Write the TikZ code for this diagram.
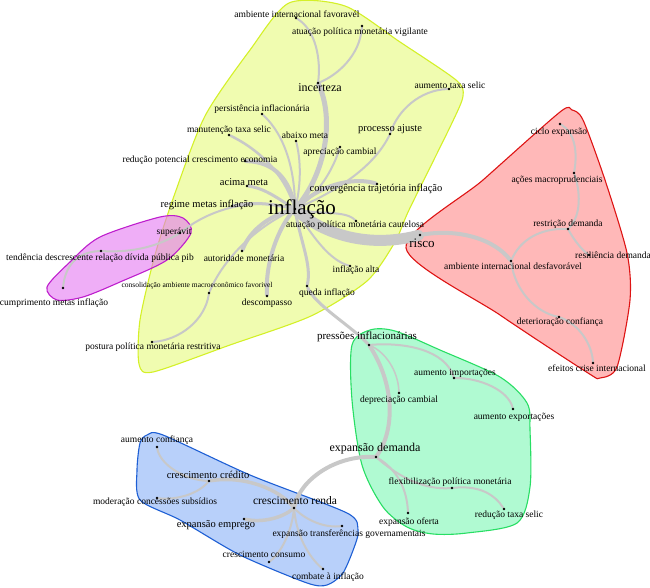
\documentclass[tikz,border=0pt]{standalone}
\usepackage{fontspec}
\setmainfont{Liberation Serif}
\usepackage{tikz}
\usetikzlibrary{backgrounds}

\definecolor{edgegrey}{RGB}{200,200,200}
\definecolor{yfill}{RGB}{240,252,176}
\definecolor{yline}{RGB}{212,240,40}
\definecolor{mfill}{RGB}{228,120,242}
\definecolor{mline}{RGB}{190,30,205}
\definecolor{rfill}{RGB}{255,184,184}
\definecolor{rline}{RGB}{222,20,20}
\definecolor{gfill}{RGB}{176,250,210}
\definecolor{gline}{RGB}{40,222,100}
\definecolor{bfill}{RGB}{184,208,250}
\definecolor{bline}{RGB}{30,95,212}

\begin{document}
\begin{tikzpicture}[
    x=1pt, y=-1pt,
    dot/.style={circle, fill=black, inner sep=0pt, minimum size=2.6pt},
    lbl/.style={inner sep=0pt, font=\fontsize{9.5}{11}\selectfont},
    lblmid/.style={inner sep=0pt, font=\fontsize{10.5}{12}\selectfont},
    lblsmall/.style={inner sep=0pt, font=\fontsize{7.5}{9}\selectfont},
    edge/.style={draw=edgegrey, line width=2pt, line cap=round},
    hull/.style={line width=1.1pt, line join=round}
  ]
  \useasboundingbox (0,0) rectangle (650,588);

  % inflacao cluster
  \node[dot] (infl)    at (295,209) {};
  \node[dot] (incert)  at (318,83)  {};
  \node[dot] (ambfav)  at (296,18)  {};
  \node[dot] (vigil)   at (362,26)  {};
  \node[dot] (aumsel)  at (449,89)  {};
  \node[dot] (persist) at (262,114) {};
  \node[dot] (manut)   at (229,135) {};
  \node[dot] (abaixo)  at (296,141) {};
  \node[dot] (proc)    at (390,134) {};
  \node[dot] (aprec)   at (340,147) {};
  \node[dot] (reduc)   at (245,161) {};
  \node[dot] (acima)   at (247,186) {};
  \node[dot] (conv)    at (377,184) {};
  \node[dot] (regime)  at (232,206) {};
  \node[dot] (autor)   at (242,251) {};
  \node[dot] (consol)  at (209,293) {};
  \node[dot] (descomp) at (267,296) {};
  \node[dot] (queda)   at (307,286) {};
  \node[dot] (postura) at (152,342) {};
  \node[dot] (caut)    at (356,221) {};
  \node[dot] (inflalta) at (350,266) {};
  % superavit cluster
  \node[dot] (superav) at (180,233) {};
  \node[dot] (tendenc) at (101,251) {};
  \node[dot] (cumpr)   at (63,288)  {};
  % risco cluster
  \node[dot] (risco)   at (420,235) {};
  \node[dot] (ciclo)   at (560,124) {};
  \node[dot] (acoes)   at (574,173) {};
  \node[dot] (restr)   at (568,229) {};
  \node[dot] (resil)   at (589,255) {};
  \node[dot] (ambdesf) at (511,261) {};
  \node[dot] (deter)   at (559,317) {};
  \node[dot] (efeitos) at (593,363) {};
  % pressoes cluster
  \node[dot] (press)   at (369,345) {};
  \node[dot] (import)  at (454,378) {};
  \node[dot] (deprec)  at (399,393) {};
  \node[dot] (export)  at (513,409) {};
  \node[dot] (expdem)  at (376,457) {};
  \node[dot] (flex)    at (452,488) {};
  \node[dot] (redsel)  at (504,509) {};
  \node[dot] (oferta)  at (408,513) {};
  % renda cluster
  \node[dot] (confi)   at (157,447) {};
  \node[dot] (credito) at (209,481) {};
  \node[dot] (moder)   at (157,498) {};
  \node[dot] (renda)   at (294,508) {};
  \node[dot] (emprego) at (244,519) {};
  \node[dot] (transf)  at (342,526) {};
  \node[dot] (consumo) at (269,562) {};
  \node[dot] (combate) at (323,569) {};

  \begin{scope}[on background layer]
    \filldraw[hull, fill=yfill, draw=yline] plot[smooth cycle, tension=0.45] coordinates {
      (289,3) (345,6) (400,42) (456,80) (463,96) (451,125) (409,210) (395,242)
      (367,281) (311,316) (230,345) (153,372) (139,364) (140,320) (155,255)
      (174,196) (205,116) (250,50)};
    \filldraw[hull, fill=mfill, fill opacity=0.6, draw=mline] plot[smooth cycle, tension=0.5] coordinates {
      (47,287) (70,262) (100,237) (160,217) (183,218) (191,233) (167,260)
      (120,282) (83,297) (57,300)};
    \filldraw[hull, fill=rfill, draw=rline] plot[smooth cycle, tension=0.45] coordinates {
      (406,248) (483,180) (560,112) (572,110) (583,120) (605,180) (627,253)
      (630,300) (617,367) (600,378) (588,373) (500,315)};
    \filldraw[hull, fill=gfill, draw=gline] plot[smooth cycle, tension=0.5] coordinates {
      (370,330) (395,331) (440,350) (500,377) (527,403) (530,430) (530,487)
      (517,523) (467,533) (433,534) (407,527) (383,507) (362,465) (352,400)
      (352,345)};
    \filldraw[hull, fill=bfill, draw=bline] plot[smooth cycle, tension=0.45] coordinates {
      (147,435) (163,435) (250,475) (347,513) (358,530) (355,545) (343,573)
      (327,585) (307,583) (240,555) (180,520) (140,500) (137,470) (140,443)};

    \draw[edge, line width=11pt] (infl) .. controls (318,230) and (362,250) .. (risco);
    \draw[edge, line width=5pt] (infl) .. controls (325,175) and (335,120) .. (incert);
    \draw[edge] (incert) .. controls (321,60) and (316,30) .. (ambfav);
    \draw[edge] (incert) .. controls (338,75) and (360,55) .. (vigil);
    \draw[edge] (infl) .. controls (295,170) and (285,135) .. (persist);
    \draw[edge, line width=2.5pt] (infl) .. controls (285,175) and (260,150) .. (manut);
    \draw[edge] (infl) .. controls (300,190) and (302,165) .. (abaixo);
    \draw[edge] (infl) .. controls (318,195) and (333,170) .. (aprec);
    \draw[edge] (infl) .. controls (340,190) and (375,165) .. (proc);
    \draw[edge] (proc) .. controls (398,110) and (420,90) .. (aumsel);
    \draw[edge, line width=4pt] (infl) .. controls (325,180) and (360,178) .. (conv);
    \draw[edge, line width=4pt] (infl) .. controls (290,180) and (275,162) .. (reduc);
    \draw[edge, line width=3pt] (infl) .. controls (280,200) and (265,188) .. (acima);
    \draw[edge, line width=3pt] (infl) .. controls (270,203) and (250,202) .. (regime);
    \draw[edge] (infl) .. controls (260,198) and (215,205) .. (superav);
    \draw[edge] (superav) .. controls (160,245) and (135,253) .. (tendenc);
    \draw[edge] (tendenc) .. controls (75,252) and (65,268) .. (cumpr);
    \draw[edge, line width=4pt] (infl) .. controls (270,215) and (250,230) .. (autor);
    \draw[edge] (infl) .. controls (260,225) and (225,255) .. (consol);
    \draw[edge] (consol) .. controls (205,320) and (180,340) .. (postura);
    \draw[edge, line width=4pt] (infl) .. controls (280,225) and (265,260) .. (descomp);
    \draw[edge, line width=3pt] (infl) .. controls (300,240) and (312,265) .. (queda);
    \draw[edge, line width=3pt] (queda) .. controls (315,305) and (350,325) .. (press);
    \draw[edge] (infl) .. controls (315,240) and (330,260) .. (inflalta);
    \draw[edge] (infl) .. controls (320,215) and (345,210) .. (caut);

    \draw[edge, line width=4pt] (risco) .. controls (460,228) and (495,240) .. (ambdesf);
    \draw[edge] (ambdesf) .. controls (520,240) and (540,228) .. (restr);
    \draw[edge] (ambdesf) .. controls (515,290) and (535,312) .. (deter);
    \draw[edge] (restr) .. controls (582,215) and (580,190) .. (acoes);
    \draw[edge] (acoes) .. controls (578,150) and (574,132) .. (ciclo);
    \draw[edge] (restr) .. controls (574,240) and (582,250) .. (resil);
    \draw[edge] (deter) .. controls (580,325) and (592,345) .. (efeitos);

    \draw[edge, line width=1.5pt] (press) .. controls (385,352) and (398,370) .. (deprec);
    \draw[edge] (press) .. controls (405,342) and (445,350) .. (import);
    \draw[edge] (import) .. controls (480,378) and (508,390) .. (export);
    \draw[edge, line width=4pt] (press) .. controls (395,385) and (395,430) .. (expdem);
    \draw[edge] (expdem) .. controls (400,478) and (425,490) .. (flex);
    \draw[edge] (flex) .. controls (480,485) and (495,495) .. (redsel);
    \draw[edge] (expdem) .. controls (398,470) and (407,490) .. (oferta);
    \draw[edge, line width=4pt] (expdem) .. controls (335,455) and (300,480) .. (renda);

    \draw[edge, line width=3.5pt] (renda) .. controls (280,490) and (245,475) .. (credito);
    \draw[edge] (credito) .. controls (185,480) and (160,465) .. (confi);
    \draw[edge] (credito) .. controls (195,497) and (170,500) .. (moder);
    \draw[edge, line width=3.5pt] (renda) .. controls (282,518) and (262,523) .. (emprego);
    \draw[edge] (renda) .. controls (308,522) and (327,528) .. (transf);
    \draw[edge] (renda) .. controls (292,530) and (282,552) .. (consumo);
    \draw[edge] (renda) .. controls (297,540) and (312,560) .. (combate);
  \end{scope}

  \node[lbl] (l-ambfav)  at (297,14)  {ambiente internacional favoravél};
  \node[lbl] (l-vigil)   at (360,32)  {atuação política monetária vigilante};
  \node[lbl, font=\fontsize{12}{14}\selectfont] (l-incert) at (320,88) {incerteza};
  \node[lbl] (l-aumsel)  at (450,85)  {aumento taxa selic};
  \node[lbl] (l-persist) at (262,109) {persistência inflacionária};
  \node[lbl] (l-manut)   at (229,130) {manutenção taxa selic};
  \node[lbl] (l-abaixo)  at (305,135) {abaixo meta};
  \node[lblmid] (l-proc) at (390,129) {processo ajuste};
  \node[lbl] (l-aprec)   at (340,152) {apreciação cambial};
  \node[lbl] (l-reduc)   at (200,160) {redução potencial crescimento economia};
  \node[lblmid] (l-acima) at (244,182) {acima meta};
  \node[lblmid] (l-conv) at (376,189) {convergência trajetória inflação};
  \node[lblmid] (l-regime) at (207,205) {regime metas inflação};
  \node[lbl, font=\fontsize{21}{24}\selectfont] (l-infl) at (302,209) {inflação};
  \node[lbl] (l-caut)    at (355,225) {atuação política monetária cautelosa};
  \node[lbl] (l-superav) at (174,232) {superávit};
  \node[lbl] (l-tendenc) at (100,258) {tendência descrescente relação dívida pública pib};
  \node[lbl] (l-autor)   at (244,258) {autoridade monetária};
  \node[lbl] (l-inflalta) at (356,270) {inflação alta};
  \node[lblsmall] (l-consol) at (197,286) {consolidação ambiente macroeconômico favorivel};
  \node[lbl] (l-queda)   at (327,293) {queda inflação};
  \node[lbl] (l-cumpr)   at (54,303)  {cumprimento metas inflação};
  \node[lbl] (l-descomp) at (267,303) {descompasso};
  \node[lbl] (l-postura) at (153,347) {postura política monetária restritiva};

  \node[lbl, font=\fontsize{13}{15}\selectfont] (l-risco) at (422,243) {risco};
  \node[lbl] (l-ciclo)   at (559,132) {ciclo expansão};
  \node[lbl] (l-acoes)   at (557,180) {ações macroprudenciais};
  \node[lbl] (l-restr)   at (568,224) {restrição demanda};
  \node[lbl] (l-resil)   at (613,255) {resiliência demanda};
  \node[lbl] (l-ambdesf) at (513,266) {ambiente internacional desfavorável};
  \node[lbl] (l-deter)   at (560,322) {deterioração confiança};
  \node[lbl] (l-efeitos) at (597,368) {efeitos crise internacional};

  \node[lbl, font=\fontsize{11}{13}\selectfont] (l-press) at (367,337) {pressões inflacionárias};
  \node[lbl] (l-import)  at (455,373) {aumento importações};
  \node[lbl] (l-deprec)  at (399,400) {depreciação cambial};
  \node[lbl] (l-export)  at (514,417) {aumento exportações};
  \node[lbl, font=\fontsize{12}{14}\selectfont] (l-expdem) at (375,449) {expansão demanda};
  \node[lbl] (l-flex)    at (450,482) {flexibilização política monetária};
  \node[lbl] (l-redsel)  at (509,515) {redução taxa selic};
  \node[lbl] (l-oferta)  at (409,522) {expansão oferta};

  \node[lbl] (l-confi)   at (157,440) {aumento confiança};
  \node[lblmid] (l-credito) at (208,475) {crescimento crédito};
  \node[lbl] (l-moder)   at (155,502) {moderação concessões subsídios};
  \node[lbl, font=\fontsize{11.5}{13}\selectfont] (l-renda) at (295,501) {crescimento renda};
  \node[lblmid] (l-emprego) at (216,525) {expansão emprego};
  \node[lbl] (l-transf)  at (349,534) {expansão transferências governamentais};
  \node[lbl] (l-consumo) at (264,554) {crescimento consumo};
  \node[lbl] (l-combate) at (328,577) {combate à inflação};
\end{tikzpicture}
\end{document}
